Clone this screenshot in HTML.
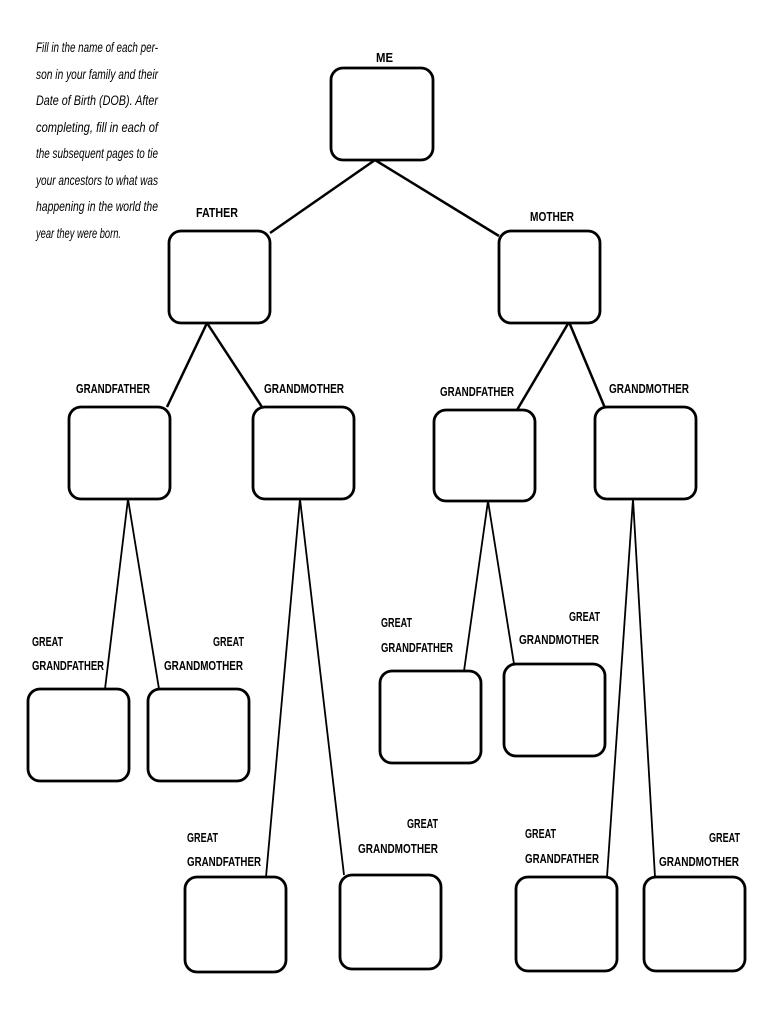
<!DOCTYPE html>
<html><head><meta charset="utf-8"><style>
html,body{margin:0;padding:0;background:#fff;}
svg{display:block;}
.l{font-family:"Liberation Sans",sans-serif;font-weight:bold;font-size:13px;}
.t{font-family:"Liberation Sans",sans-serif;font-style:italic;font-size:14px;}
</style></head><body>
<svg width="770" height="1024" viewBox="0 0 770 1024" xmlns="http://www.w3.org/2000/svg">
<g class="t" fill="#000">
<text x="36" y="52" textLength="122" lengthAdjust="spacingAndGlyphs">Fill in the name of each per-</text>
<text x="36" y="79" textLength="122" lengthAdjust="spacingAndGlyphs">son in your family and their</text>
<text x="36" y="105" textLength="122" lengthAdjust="spacingAndGlyphs">Date of Birth (DOB).  After</text>
<text x="36" y="132" textLength="122" lengthAdjust="spacingAndGlyphs">completing, fill in each of</text>
<text x="36" y="158" textLength="122" lengthAdjust="spacingAndGlyphs">the subsequent pages to tie</text>
<text x="36" y="185" textLength="122" lengthAdjust="spacingAndGlyphs">your ancestors to what was</text>
<text x="36" y="211" textLength="122" lengthAdjust="spacingAndGlyphs">happening in the world the</text>
<text x="36" y="238" textLength="85" lengthAdjust="spacingAndGlyphs">year they were born.</text>
</g>
<g stroke="#000" stroke-width="2.5" fill="none">
<line x1="375" y1="160" x2="270" y2="233"/><line x1="375" y1="160" x2="499" y2="236"/>
<line x1="207" y1="323" x2="167" y2="407"/><line x1="207" y1="323" x2="262" y2="407"/>
<line x1="569" y1="322" x2="517" y2="410"/><line x1="569" y1="322" x2="605" y2="408"/>
<line x1="128" y1="499" x2="105" y2="689" stroke-width="1.8"/><line x1="128" y1="499" x2="159" y2="689" stroke-width="1.8"/>
<line x1="300" y1="499" x2="266" y2="877" stroke-width="1.8"/><line x1="300" y1="499" x2="344" y2="875" stroke-width="1.8"/>
<line x1="488" y1="501" x2="464" y2="671" stroke-width="1.8"/><line x1="488" y1="501" x2="514" y2="664" stroke-width="1.8"/>
<line x1="633" y1="499" x2="607" y2="877" stroke-width="1.8"/><line x1="633" y1="499" x2="655" y2="877" stroke-width="1.8"/>
</g>
<g stroke="#000" stroke-width="2.8" fill="#fff">
<rect x="331" y="68" width="102" height="92" rx="12"/>
<rect x="169" y="231" width="101" height="92" rx="12"/>
<rect x="499" y="231" width="101" height="92" rx="12"/>
<rect x="69" y="407" width="101" height="92" rx="12"/>
<rect x="253" y="407" width="101" height="92" rx="12"/>
<rect x="434" y="410" width="101" height="91" rx="12"/>
<rect x="595" y="407" width="101" height="92" rx="12"/>
<rect x="28" y="689" width="101" height="92" rx="12"/>
<rect x="148" y="689" width="101" height="92" rx="12"/>
<rect x="380" y="671" width="101" height="92" rx="12"/>
<rect x="504" y="664" width="101" height="92" rx="12"/>
<rect x="185" y="877" width="101" height="95" rx="12"/>
<rect x="340" y="875" width="101" height="94" rx="12"/>
<rect x="516" y="877" width="101" height="94" rx="12"/>
<rect x="644" y="877" width="101" height="94" rx="12"/>
</g>
<g class="l" fill="#000">
<text x="376" y="62" textLength="17" lengthAdjust="spacingAndGlyphs">ME</text>
<text x="196" y="217" textLength="42" lengthAdjust="spacingAndGlyphs">FATHER</text>
<text x="530" y="221" textLength="44" lengthAdjust="spacingAndGlyphs">MOTHER</text>
<text x="76" y="393" textLength="74" lengthAdjust="spacingAndGlyphs">GRANDFATHER</text>
<text x="264" y="393" textLength="80" lengthAdjust="spacingAndGlyphs">GRANDMOTHER</text>
<text x="440" y="396" textLength="74" lengthAdjust="spacingAndGlyphs">GRANDFATHER</text>
<text x="609" y="393" textLength="80" lengthAdjust="spacingAndGlyphs">GRANDMOTHER</text>
<text x="32" y="646" textLength="31" lengthAdjust="spacingAndGlyphs">GREAT</text>
<text x="32" y="670" textLength="72" lengthAdjust="spacingAndGlyphs">GRANDFATHER</text>
<text x="213" y="646" textLength="31" lengthAdjust="spacingAndGlyphs">GREAT</text>
<text x="164" y="670" textLength="79" lengthAdjust="spacingAndGlyphs">GRANDMOTHER</text>
<text x="381" y="627" textLength="31" lengthAdjust="spacingAndGlyphs">GREAT</text>
<text x="381" y="652" textLength="72" lengthAdjust="spacingAndGlyphs">GRANDFATHER</text>
<text x="569" y="621" textLength="31" lengthAdjust="spacingAndGlyphs">GREAT</text>
<text x="519" y="644" textLength="80" lengthAdjust="spacingAndGlyphs">GRANDMOTHER</text>
<text x="187" y="842" textLength="31" lengthAdjust="spacingAndGlyphs">GREAT</text>
<text x="187" y="866" textLength="74" lengthAdjust="spacingAndGlyphs">GRANDFATHER</text>
<text x="407" y="828" textLength="31" lengthAdjust="spacingAndGlyphs">GREAT</text>
<text x="358" y="853" textLength="80" lengthAdjust="spacingAndGlyphs">GRANDMOTHER</text>
<text x="525" y="838" textLength="31" lengthAdjust="spacingAndGlyphs">GREAT</text>
<text x="525" y="863" textLength="74" lengthAdjust="spacingAndGlyphs">GRANDFATHER</text>
<text x="709" y="842" textLength="31" lengthAdjust="spacingAndGlyphs">GREAT</text>
<text x="659" y="866" textLength="80" lengthAdjust="spacingAndGlyphs">GRANDMOTHER</text>
</g>
</svg>
</body></html>
